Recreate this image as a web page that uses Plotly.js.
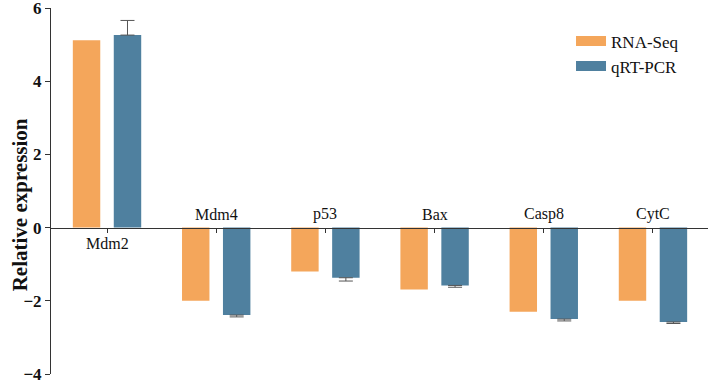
<!DOCTYPE html>
<html>
<head>
<meta charset="utf-8">
<script src="https://cdn.plot.ly/plotly-3.0.1.min.js"></script>
<style>html,body{margin:0;padding:0;background:#fff;}#chart{width:709px;height:383px;}</style>
</head>
<body>
<div id="chart"></div>
<script>
const categories = ["Mdm2", "Mdm4", "p53", "Bax", "Casp8", "CytC"];
const rnaSeq = [5.12, -2.0, -1.2, -1.69, -2.3, -2.0];
const qrtPcr = [5.26, -2.39, -1.37, -1.58, -2.5, -2.58];
const qrtPcrErr = [0.4, 0.05, 0.09, 0.05, 0.05, 0.04];
const seriesNames = ["RNA-Seq", "qRT-PCR"];
const colors = ["#F4A65B", "#4F809F"];
const yTitle = "Relative expression";

const serif = "Liberation Serif, Times New Roman, serif";
const xIdx = categories.map((c, i) => i);

const traces = [
  {type: "bar", x: xIdx, y: rnaSeq, name: seriesNames[0], marker: {color: colors[0]}, showlegend: false},
  {type: "bar", x: xIdx, y: qrtPcr, name: seriesNames[1], marker: {color: colors[1]}, showlegend: false,
   error_y: {type: "data", symmetric: false,
     array: qrtPcr.map((v, i) => v >= 0 ? qrtPcrErr[i] : 0),
     arrayminus: qrtPcr.map((v, i) => v < 0 ? qrtPcrErr[i] : 0),
     color: "#555555", thickness: 1, width: 7}},
  {type: "scatter", mode: "lines", x: [null], y: [null], name: seriesNames[0], line: {color: colors[0], width: 12}},
  {type: "scatter", mode: "lines", x: [null], y: [null], name: seriesNames[1], line: {color: colors[1], width: 12}}
];

const annotations = categories.map((c, i) => {
  const pos = rnaSeq[i] >= 0 && qrtPcr[i] >= 0;
  return {x: i, y: 0, xref: "x", yref: "y", text: c, showarrow: false,
    yanchor: pos ? "top" : "bottom", yshift: pos ? -5 : 3,
    font: {family: serif, size: 16, color: "#111"}};
});
annotations.push({x: -0.0472, y: 0.4636, xref: "paper", yref: "paper", text: "<b>" + yTitle + "</b>",
  textangle: -90, showarrow: false, xanchor: "center", yanchor: "middle",
  font: {family: serif, size: 21, color: "#111"}});

const layout = {
  width: 709, height: 383,
  margin: {l: 51, r: 1, t: 8, b: 9},
  paper_bgcolor: "#fff", plot_bgcolor: "#fff",
  barmode: "group", bargap: 0.25, bargroupgap: 0.33,
  showlegend: true,
  legend: {x: 0.7915, xanchor: "left", y: 0.958, yanchor: "top", bgcolor: "rgba(0,0,0,0)",
    font: {family: serif, size: 17, color: "#111"}, tracegroupgap: 0},
  xaxis: {range: [-0.513, 5.504], anchor: "free", position: 0.4, showgrid: false, zeroline: false,
    showline: true, linecolor: "#333", linewidth: 1, ticks: "outside", ticklen: 4, tickcolor: "#333",
    tickvals: xIdx, showticklabels: false, fixedrange: true},
  yaxis: {range: [-4, 6], tickvals: [-4, -2, 0, 2, 4, 6], showgrid: false, zeroline: false,
    showline: true, linecolor: "#333", linewidth: 1, ticks: "outside", ticklen: 5, tickcolor: "#333",
    ticklabeloverflow: "allow",
    tickfont: {family: serif, size: 17, color: "#111", weight: "bold"}},
  annotations: annotations
};

Plotly.newPlot("chart", traces, layout, {displayModeBar: false, staticPlot: true});
</script>
</body>
</html>
